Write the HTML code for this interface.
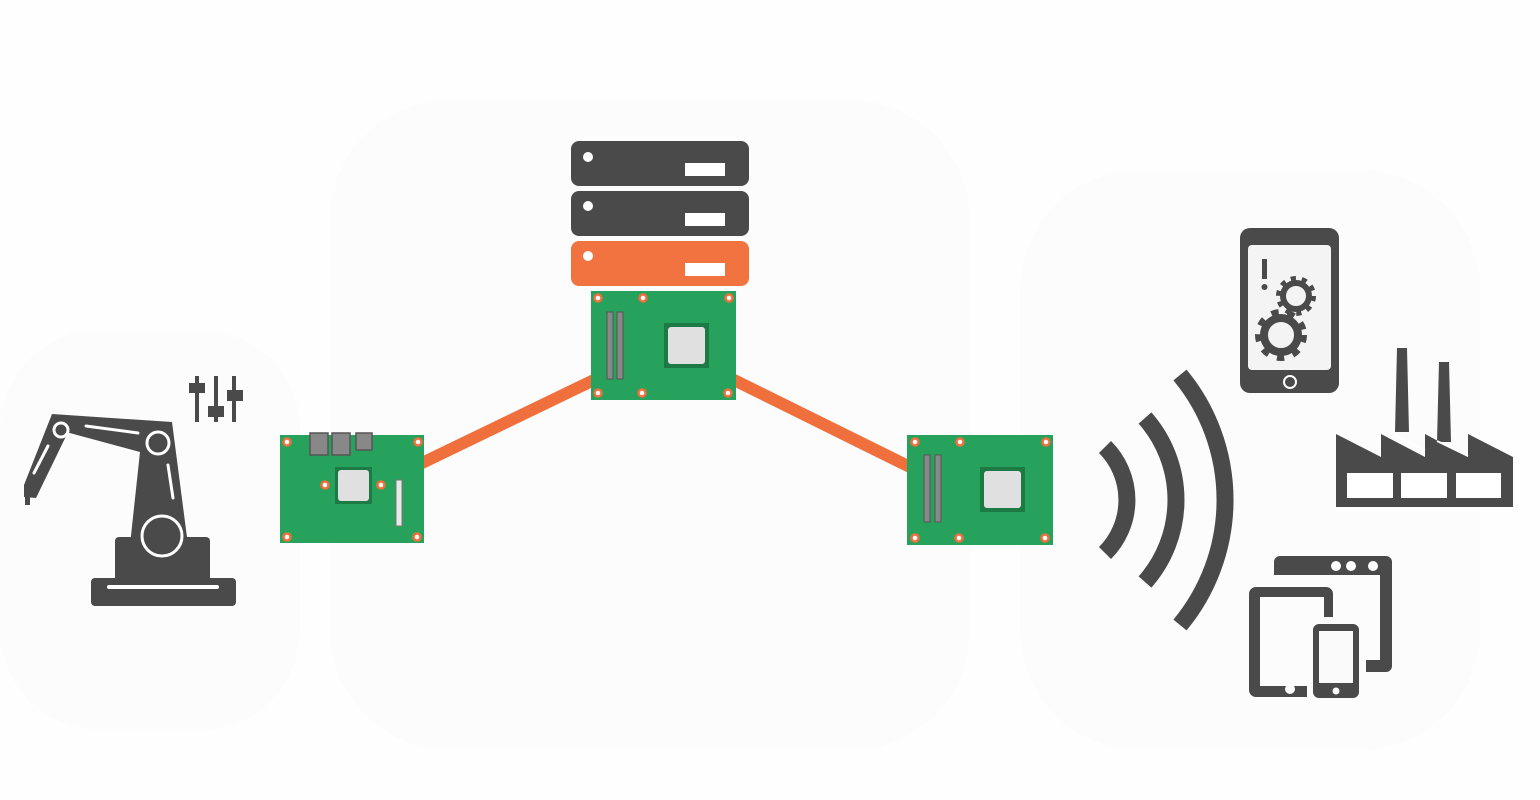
<!DOCTYPE html>
<html><head><meta charset="utf-8"><style>
html,body{margin:0;padding:0;background:#fdfdfd;}
svg{display:block}
</style></head><body>
<svg width="1540" height="800" viewBox="0 0 1540 800" xmlns="http://www.w3.org/2000/svg">
<rect width="1540" height="800" fill="#fefefe"/>
<rect x="330" y="100" width="640" height="650" rx="120" fill="#fcfcfc"/>
<rect x="1020" y="170" width="460" height="580" rx="120" fill="#fcfcfc"/>
<rect x="0" y="330" width="300" height="400" rx="100" fill="#fcfcfc"/>

<!-- connectors -->
<line x1="420" y1="464" x2="596" y2="379" stroke="#f0703d" stroke-width="12"/>
<line x1="732" y1="379" x2="912" y2="468" stroke="#f0703d" stroke-width="12"/>

<!-- servers -->
<g>
<rect x="571" y="141" width="178" height="45" rx="8" fill="#4a4a4a"/>
<circle cx="588" cy="157" r="5" fill="#fff"/>
<rect x="685" y="163" width="40" height="13" fill="#fff"/>
<rect x="571" y="191" width="178" height="45" rx="8" fill="#4a4a4a"/>
<circle cx="588" cy="206" r="5" fill="#fff"/>
<rect x="685" y="213" width="40" height="13" fill="#fff"/>
<rect x="571" y="241" width="178" height="45" rx="8" fill="#f07340"/>
<circle cx="588" cy="256" r="5" fill="#fff"/>
<rect x="685" y="263" width="40" height="13" fill="#fff"/>
</g>

<!-- center board -->
<g>
<rect x="591" y="291" width="145" height="109" fill="#27a25c"/>
<rect x="607" y="312" width="6" height="67" fill="#888" stroke="#555" stroke-width="1"/>
<rect x="617" y="312" width="6" height="67" fill="#888" stroke="#555" stroke-width="1"/>
<rect x="664" y="323" width="45" height="45" fill="#1e7a45"/>
<rect x="668" y="327" width="37" height="37" rx="3" fill="#e0e0e0"/>
<g fill="#fff" stroke="#f0703d" stroke-width="2.5">
<circle cx="598" cy="298" r="3.5"/><circle cx="643" cy="298" r="3.5"/><circle cx="729" cy="298" r="3.5"/>
<circle cx="598" cy="393" r="3.5"/><circle cx="642" cy="393" r="3.5"/><circle cx="728" cy="393" r="3.5"/>
</g>
</g>

<!-- left board -->
<g>
<rect x="280" y="435" width="144" height="108" fill="#27a25c"/>
<rect x="310" y="433" width="18" height="22" fill="#888" stroke="#555" stroke-width="1.5"/>
<rect x="332" y="433" width="18" height="22" fill="#888" stroke="#555" stroke-width="1.5"/>
<rect x="356" y="433" width="16" height="17" fill="#888" stroke="#555" stroke-width="1.5"/>
<rect x="335" y="467" width="37" height="37" fill="#1e7a45"/>
<rect x="338" y="470" width="31" height="31" rx="3" fill="#e0e0e0"/>
<rect x="396" y="480" width="6" height="46" fill="#e8e8e8" stroke="#777" stroke-width="1"/>
<g fill="#fff" stroke="#f0703d" stroke-width="2.5">
<circle cx="287" cy="442" r="3.5"/><circle cx="418" cy="442" r="3.5"/>
<circle cx="287" cy="537" r="3.5"/><circle cx="417" cy="537" r="3.5"/>
<circle cx="325" cy="485" r="3.5"/><circle cx="381" cy="485" r="3.5"/>
</g>
</g>

<!-- right board -->
<g>
<rect x="907" y="435" width="146" height="110" fill="#27a25c"/>
<rect x="924" y="455" width="6" height="67" fill="#888" stroke="#555" stroke-width="1"/>
<rect x="935" y="455" width="6" height="67" fill="#888" stroke="#555" stroke-width="1"/>
<rect x="980" y="467" width="45" height="45" fill="#1e7a45"/>
<rect x="984" y="471" width="37" height="37" rx="3" fill="#e0e0e0"/>
<g fill="#fff" stroke="#f0703d" stroke-width="2.5">
<circle cx="915" cy="442" r="3.5"/><circle cx="960" cy="442" r="3.5"/><circle cx="1046" cy="442" r="3.5"/>
<circle cx="915" cy="538" r="3.5"/><circle cx="959" cy="538" r="3.5"/><circle cx="1045" cy="538" r="3.5"/>
</g>
</g>

<!-- robot arm -->
<g fill="#4a4a4a">
<rect x="91" y="578" width="145" height="28" rx="4"/>
<rect x="115" y="537" width="95" height="45" rx="4"/>
<polygon points="130,545 140,452 66,432 52,414 172,422 188,545"/>
<polygon points="52,414 70,428 36,498 24,497 24,485"/>
<rect x="25" y="495" width="5" height="10"/>
</g>
<g fill="none" stroke="#fff" stroke-width="3" stroke-linecap="round">
<circle cx="61" cy="430" r="7"/>
<circle cx="158" cy="443" r="11"/>
<circle cx="162" cy="536" r="20"/>
<line x1="86" y1="426" x2="138" y2="433"/>
<line x1="168" y1="465" x2="173" y2="498"/>
<line x1="34" y1="473" x2="48" y2="446"/>
<line x1="109" y1="587" x2="217" y2="587" stroke-width="4"/>
</g>
<!-- sliders -->
<g fill="#4a4a4a">
<rect x="195" y="376" width="4" height="46"/>
<rect x="214" y="376" width="4" height="46"/>
<rect x="232" y="376" width="4" height="46"/>
<rect x="189" y="383" width="16" height="10"/>
<rect x="208" y="406" width="16" height="11"/>
<rect x="227" y="390" width="16" height="11"/>
</g>

<!-- wifi arcs -->
<g fill="none" stroke="#4a4a4a" stroke-width="17">
<path d="M1105,447 A75,75 0 0 1 1105,553"/>
<path d="M1145,418 A124,124 0 0 1 1145,582"/>
<path d="M1180,375 A196,196 0 0 1 1180,625"/>
</g>

<!-- phone with gears -->
<g>
<rect x="1240" y="228" width="99" height="165" rx="10" fill="#4a4a4a"/>
<rect x="1248" y="245" width="83" height="125" rx="4" fill="#f4f4f4"/>
<circle cx="1290" cy="382" r="6" fill="none" stroke="#fff" stroke-width="2"/>
<rect x="1262" y="259" width="5" height="20" fill="#4a4a4a"/>
<circle cx="1264.5" cy="287" r="3" fill="#4a4a4a"/>
<circle cx="1296" cy="296" r="13" fill="none" stroke="#4a4a4a" stroke-width="6"/>
<circle cx="1296" cy="296" r="17" fill="none" stroke="#4a4a4a" stroke-width="6" stroke-dasharray="5 5.7"/>
<circle cx="1281" cy="335" r="17" fill="none" stroke="#4a4a4a" stroke-width="8"/>
<circle cx="1281" cy="335" r="22" fill="none" stroke="#4a4a4a" stroke-width="8" stroke-dasharray="7 8.7"/>
</g>

<!-- factory -->
<g fill="#4a4a4a">
<polygon points="1397,348 1407,348 1409,432 1395,432"/>
<polygon points="1439,362 1449,362 1451,442 1437,442"/>
<polygon points="1336,434 1381,457 1381,434 1425,457 1425,434 1468,457 1468,434 1513,457 1513,507 1336,507"/>
</g>
<g fill="#fff">
<rect x="1347" y="473" width="46" height="25"/>
<rect x="1401" y="473" width="46" height="25"/>
<rect x="1456" y="473" width="45" height="25"/>
</g>
<line x1="1395" y1="435" x2="1425" y2="450" stroke="#fff" stroke-width="2"/>
<line x1="1437" y1="441" x2="1468" y2="456" stroke="#fff" stroke-width="2"/>

<!-- devices -->
<g>
<path d="M1274,562 a6,6 0 0 1 6,-6 h106 a6,6 0 0 1 6,6 v104 a6,6 0 0 1 -6,6 h-20 v-12 h14 v-85 h-106 z" fill="#4a4a4a"/>
<circle cx="1336" cy="566" r="5" fill="#fff"/>
<circle cx="1351" cy="566" r="5" fill="#fff"/>
<circle cx="1373" cy="566" r="5" fill="#fff"/>
<path d="M1256,587 h70 a7,7 0 0 1 7,7 v23 h-9 v-20 h-64 v89 h47 v11 h-51 a7,7 0 0 1 -7,-7 v-96 a7,7 0 0 1 7,-7 z" fill="#4a4a4a"/>
<circle cx="1290" cy="689" r="5" fill="#fff"/>
<rect x="1313" y="624" width="46" height="74" rx="6" fill="#4a4a4a"/>
<rect x="1319" y="631" width="34" height="52" fill="#fafafa"/>
<circle cx="1336" cy="691" r="3.5" fill="#fff"/>
</g>
</svg>
</body></html>
